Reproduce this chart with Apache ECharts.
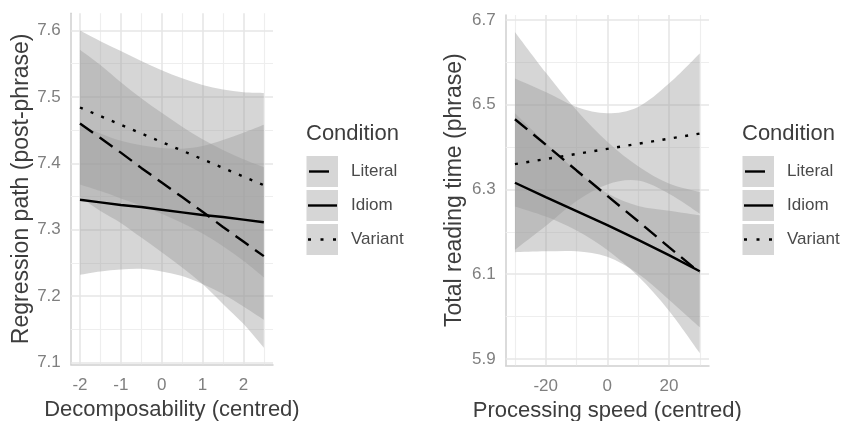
<!DOCTYPE html>
<html><head><meta charset="utf-8">
<script src="https://cdn.jsdelivr.net/npm/echarts@6/dist/echarts.min.js"></script>
<style>html,body{margin:0;padding:0;background:#fff}#c{width:842px;height:421px}</style>
</head><body><div id="c"></div>
<script>
// ---------- Left panel: Regression path vs Decomposability ----------
const xL = [-2, -1.5, -1, -0.5, 0, 0.5, 1, 1.5, 2, 2.5];
const literalFitL = [7.460, 7.438, 7.416, 7.393, 7.371, 7.349, 7.327, 7.304, 7.282, 7.260];
const literalLoL  = [7.349, 7.328, 7.310, 7.288, 7.266, 7.243, 7.218, 7.188, 7.158, 7.122];
const literalHiL  = [7.571, 7.548, 7.522, 7.498, 7.476, 7.455, 7.436, 7.420, 7.406, 7.394];
const idiomFitL   = [7.345, 7.341, 7.337, 7.334, 7.330, 7.326, 7.322, 7.319, 7.315, 7.311];
const idiomLoL    = [7.232, 7.237, 7.240, 7.241, 7.237, 7.230, 7.218, 7.203, 7.184, 7.164];
const idiomHiL    = [7.458, 7.445, 7.434, 7.427, 7.423, 7.422, 7.426, 7.435, 7.446, 7.458];
const variantFitL = [7.484, 7.471, 7.458, 7.445, 7.432, 7.419, 7.406, 7.393, 7.380, 7.367];
const variantLoL  = [7.368, 7.358, 7.347, 7.336, 7.324, 7.310, 7.294, 7.275, 7.253, 7.228];
const variantHiL  = [7.600, 7.584, 7.569, 7.554, 7.540, 7.528, 7.518, 7.511, 7.507, 7.506];
const xTicksL = [-2, -1, 0, 1, 2];
const xMinorL = [-1.5, -0.5, 0.5, 1.5, 2.5];
const yTicksL = [7.1, 7.2, 7.3, 7.4, 7.5, 7.6];
const yMinorL = [7.15, 7.25, 7.35, 7.45, 7.55];

// ---------- Right panel: Total reading time vs Processing speed ----------
const xR = [-30, -20, -10, 0, 10, 20, 30];
const literalFitR = [6.466, 6.406, 6.345, 6.285, 6.225, 6.164, 6.104];
const literalLoR  = [6.260, 6.236, 6.203, 6.157, 6.095, 6.014, 5.914];
const literalHiR  = [6.672, 6.576, 6.487, 6.413, 6.355, 6.314, 6.294];
const idiomFitR   = [6.316, 6.282, 6.249, 6.216, 6.181, 6.145, 6.107];
const idiomLoR    = [6.152, 6.154, 6.154, 6.141, 6.101, 6.040, 5.975];
const idiomHiR    = [6.480, 6.410, 6.344, 6.291, 6.261, 6.250, 6.239];
const variantFitR = [6.360, 6.372, 6.384, 6.396, 6.408, 6.420, 6.432];
const variantLoR  = [6.158, 6.214, 6.273, 6.312, 6.321, 6.290, 6.243];
const variantHiR  = [6.562, 6.530, 6.495, 6.480, 6.495, 6.550, 6.621];
const xTicksR = [-20, 0, 20];
const xMinorR = [-30, -10, 10, 30];
const yTicksR = [5.9, 6.1, 6.3, 6.5, 6.7];
const yMinorR = [6.0, 6.2, 6.4, 6.6];

const legendTitle = 'Condition';
const legendNames = ['Literal', 'Idiom', 'Variant'];

// ---------- helpers ----------
const FONT = 'Liberation Sans, Arial, sans-serif';
const BAND_FILL = 'rgba(153,153,153,0.4)';
const LW = 2.4;
const pairs = (xs, ys) => xs.map((x, i) => [x, ys[i]]);

function gridMarks(xMaj, xMin, yMaj, yMin) {
  const data = [];
  const maj = {color: '#e6e6e6', width: 1.6, type: 'solid'};
  const mnr = {color: '#eeeeee', width: 1.2, type: 'solid'};
  xMin.forEach(v => data.push({xAxis: v, lineStyle: mnr}));
  yMin.forEach(v => data.push({yAxis: v, lineStyle: mnr}));
  xMaj.forEach(v => data.push({xAxis: v, lineStyle: maj}));
  yMaj.forEach(v => data.push({yAxis: v, lineStyle: maj}));
  return {silent: true, symbol: 'none', z: 1, animation: false, label: {show: false},
          emphasis: {disabled: true}, data};
}

// smooth curve (Catmull-Rom -> cubic Bezier) through pixel points
function curve(pts, start) {
  let d = (start ? 'M' : 'L') + pts[0][0] + ' ' + pts[0][1];
  for (let i = 0; i < pts.length - 1; i++) {
    const p0 = pts[Math.max(i - 1, 0)], p1 = pts[i], p2 = pts[i + 1], p3 = pts[Math.min(i + 2, pts.length - 1)];
    const c1 = [p1[0] + (p2[0] - p0[0]) / 6, p1[1] + (p2[1] - p0[1]) / 6];
    const c2 = [p2[0] - (p3[0] - p1[0]) / 6, p2[1] - (p3[1] - p1[1]) / 6];
    d += 'C' + c1[0] + ' ' + c1[1] + ' ' + c2[0] + ' ' + c2[1] + ' ' + p2[0] + ' ' + p2[1];
  }
  return d;
}

function band(idx, xs, lo, hi) {
  return {
    type: 'custom', xAxisIndex: idx, yAxisIndex: idx, silent: true, z: 2, animation: false,
    data: xs.map((x, i) => [x, lo[i], hi[i]]),
    encode: {x: 0, y: [1, 2]},
    renderItem: (params, api) => {
      if (params.dataIndex !== 0) return null;
      const up = xs.map((x, i) => api.coord([x, hi[i]]));
      const dn = xs.map((x, i) => api.coord([x, lo[i]])).reverse();
      const d = curve(up, true) + curve(dn, false) + 'Z';
      return {type: 'path', shape: {pathData: d}, style: {fill: BAND_FILL}};
    }
  };
}

const DASH = [16, 8];
const DOT = [3, 8.5];
function fit(idx, xs, ys, type, marks) {
  const s = {type: 'line', xAxisIndex: idx, yAxisIndex: idx, data: pairs(xs, ys), symbol: 'none',
    lineStyle: {color: '#000', width: LW, type: type, cap: 'butt'}, silent: true, z: 3, animation: false};
  if (marks) s.markLine = marks;
  return s;
}

function xAxisCfg(idx, min, max, ticks, name) {
  return {gridIndex: idx, type: 'value', min, max, splitLine: {show: false}, axisTick: {show: false},
    axisLine: {show: true, onZero: false, lineStyle: {color: '#cfcfcf', width: 1.5}},
    axisLabel: {customValues: ticks, color: '#7f7f7f', fontSize: 17, fontFamily: FONT, margin: 13},
    name, nameLocation: 'middle', nameGap: 28,
    nameTextStyle: {fontSize: 22, color: '#3d3d3d', fontFamily: FONT}};
}
function yAxisCfg(idx, min, max, ticks, name, gap) {
  return {gridIndex: idx, type: 'value', min, max, splitLine: {show: false}, axisTick: {show: false},
    axisLine: {show: true, onZero: false, lineStyle: {color: '#cfcfcf', width: 1.5}},
    axisLabel: {customValues: ticks, color: '#7f7f7f', fontSize: 17, fontFamily: FONT, margin: 10},
    name, nameLocation: 'middle', nameGap: gap, nameRotate: 90,
    nameTextStyle: {fontSize: 23, color: '#3d3d3d', fontFamily: FONT}};
}

function legend(x0) {
  const els = [];
  els.push({type: 'text', left: x0, top: 123, style: {text: legendTitle, font: '22px ' + FONT, fill: '#3d3d3d'}});
  const spans = [[309, 329], [308, 337], [308, 337]];
  legendNames.forEach((n, i) => {
    const y = 156 + 34 * i;
    els.push({type: 'rect', shape: {x: x0 + 0.5, y: y, width: 31.5, height: 31}, style: {fill: BAND_FILL}});
    const d = spans[i];
    els.push({type: 'line', shape: {x1: x0 + (d[0] - 306), y1: y + 15.5, x2: x0 + (d[1] - 306), y2: y + 15.5},
      style: {stroke: '#000', lineWidth: LW, lineDash: i === 2 ? [3, 9.5] : null}});
    els.push({type: 'text', x: x0 + 45, y: y + 15.5,
      style: {text: n, font: '17px ' + FONT, fill: '#4a4a4a', verticalAlign: 'middle', align: 'left'}});
  });
  return els;
}

const chart = echarts.init(document.getElementById('c'), null, {renderer: 'canvas'});
chart.setOption({
  animation: false,
  backgroundColor: '#ffffff',
  grid: [
    {left: 70.8, top: 13.3, width: 202.2, height: 351, containLabel: false, outerBoundsMode: 'none'},
    {left: 505.7, top: 15, width: 203.3, height: 350.3, containLabel: false, outerBoundsMode: 'none'}
  ],
  xAxis: [
    xAxisCfg(0, -2.225, 2.725, xTicksL, 'Decomposability (centred)'),
    xAxisCfg(1, -33, 33, xTicksR, 'Processing speed (centred)')
  ],
  yAxis: [
    yAxisCfg(0, 7.097, 7.626, yTicksL, 'Regression path (post-phrase)', 35),
    yAxisCfg(1, 5.885, 6.712, yTicksR, 'Total reading time (phrase)', 40)
  ],
  series: [
    band(0, xL, literalLoL, literalHiL),
    band(0, xL, idiomLoL, idiomHiL),
    band(0, xL, variantLoL, variantHiL),
    fit(0, xL, literalFitL, DASH),
    fit(0, xL, idiomFitL, 'solid', gridMarks(xTicksL, xMinorL, yTicksL, yMinorL)),
    fit(0, xL, variantFitL, DOT),
    band(1, xR, literalLoR, literalHiR),
    band(1, xR, idiomLoR, idiomHiR),
    band(1, xR, variantLoR, variantHiR),
    fit(1, xR, literalFitR, DASH),
    fit(1, xR, idiomFitR, 'solid', gridMarks(xTicksR, xMinorR, yTicksR, yMinorR)),
    fit(1, xR, variantFitR, DOT)
  ],
  graphic: [...legend(306), ...legend(742)]
});
</script></body></html>
